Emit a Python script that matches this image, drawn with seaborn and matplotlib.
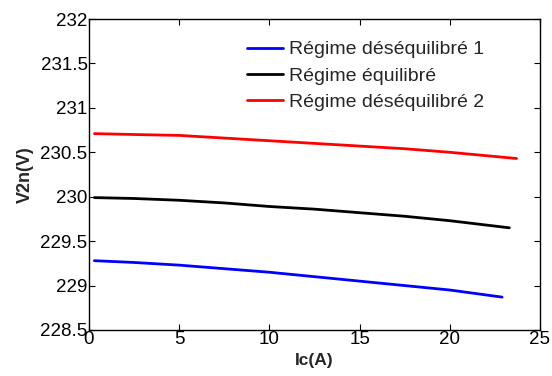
import matplotlib
matplotlib.use("Agg")
import matplotlib.pyplot as plt
import seaborn as sns
import pandas as pd

sns.set_style("white")
plt.rcParams['font.family'] = ['Liberation Sans', 'DejaVu Sans']

ic_1 = [0.3, 2.5, 5, 7.5, 10, 12.5, 15, 17.5, 20, 22.9]
v_1 = [229.28, 229.26, 229.23, 229.19, 229.15, 229.10, 229.05, 229.00, 228.95, 228.87]
ic_eq = [0.3, 2.5, 5, 7.5, 10, 12.5, 15, 17.5, 20, 23.3]
v_eq = [229.99, 229.98, 229.96, 229.93, 229.89, 229.86, 229.82, 229.78, 229.73, 229.65]
ic_2 = [0.3, 2.5, 5, 7.5, 10, 12.5, 15, 17.5, 20, 23.7]
v_2 = [230.71, 230.70, 230.69, 230.66, 230.63, 230.60, 230.57, 230.54, 230.50, 230.43]
labels = ["Régime déséquilibré 1", "Régime équilibré", "Régime déséquilibré 2"]
colors = ["#0000ff", "#000000", "#ff0000"]

df = pd.concat([
    pd.DataFrame({"Ic": ic_1, "V": v_1, "s": labels[0]}),
    pd.DataFrame({"Ic": ic_eq, "V": v_eq, "s": labels[1]}),
    pd.DataFrame({"Ic": ic_2, "V": v_2, "s": labels[2]}),
])

fig = plt.figure(figsize=(5.52, 3.76), dpi=100)
ax = fig.add_axes([89/552, 1-330/376, (540-89)/552, (330-19)/376])
sns.lineplot(data=df, x="Ic", y="V", hue="s", palette=colors, linewidth=2, ax=ax,
             sort=False, estimator=None)
ax.set_xlim(0, 25)
ax.set_ylim(228.5, 232)
ax.set_xticks([0, 5, 10, 15, 20, 25])
ax.set_yticks([228.5, 229, 229.5, 230, 230.5, 231, 231.5, 232])
ax.set_yticklabels(["228.5", "229", "229.5", "230", "230.5", "231", "231.5", "232"])
ax.tick_params(direction="in", length=4, labelsize=13.5, top=True, right=True,
               bottom=True, left=True, width=0.8, colors="#000000", pad=1)
for sp in ax.spines.values():
    sp.set_color("#000000")
    sp.set_linewidth(1.0)
ax.set_xlabel("Ic(A)", fontsize=12.5, fontweight="bold", labelpad=3)
ax.set_ylabel("V2n(V)", fontsize=13, fontweight="bold", labelpad=5)
leg = ax.legend(loc="upper left", bbox_to_anchor=(0.35, 0.93), frameon=False,
                fontsize=14, handlelength=1.85, labelspacing=0.45, handletextpad=0.3,
                borderaxespad=0, borderpad=0)
ax.grid(False)
fig.savefig("out.png", dpi=100)
